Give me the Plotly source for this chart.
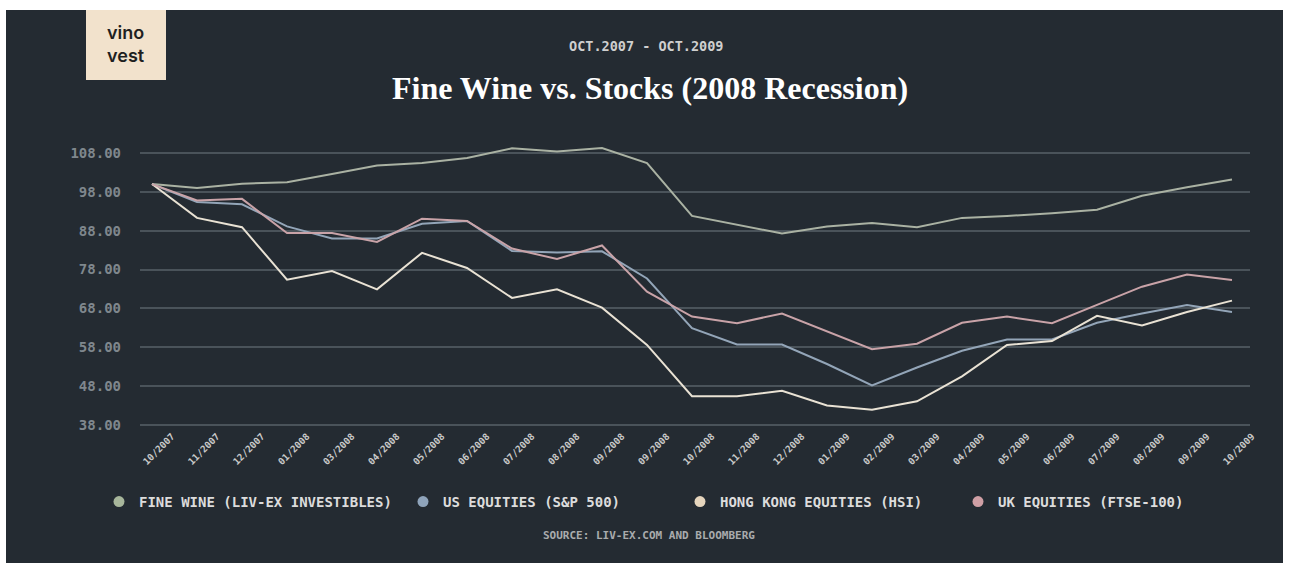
import plotly.graph_objects as go

# ---- data -------------------------------------------------------------
months = ["10/2007", "11/2007", "12/2007", "01/2008", "03/2008", "04/2008",
          "05/2008", "06/2008", "07/2008", "08/2008", "09/2008", "09/2008",
          "10/2008", "11/2008", "12/2008", "01/2009", "02/2009", "03/2009",
          "04/2009", "05/2009", "06/2009", "07/2009", "08/2009", "09/2009",
          "10/2009"]

fine_wine = [100, 99.0, 100.1, 100.5, 102.6, 104.8, 105.4, 106.7, 109.2, 108.4,
             109.3, 105.4, 91.8, 89.6, 87.3, 89.1, 90.0, 88.9, 91.3, 91.8,
             92.5, 93.4, 97.0, 99.2, 101.2]
sp500 = [100, 95.4, 94.8, 89.1, 86.0, 86.0, 89.8, 90.5, 82.8, 82.4,
         82.7, 75.7, 62.9, 58.7, 58.7, 53.7, 48.2, 52.8, 57.1, 60.0,
         60.0, 64.3, 66.7, 68.9, 67.1]
hsi = [100, 91.3, 88.9, 75.4, 77.6, 72.9, 82.3, 78.4, 70.7, 72.9,
       68.2, 58.6, 45.4, 45.4, 46.8, 43.0, 41.9, 44.1, 50.5, 58.6,
       59.6, 66.1, 63.6, 67.1, 70.0]
ftse = [100, 95.8, 96.2, 87.4, 87.4, 85.1, 91.1, 90.5, 83.4, 80.7,
        84.2, 72.3, 65.9, 64.2, 66.7, 62.0, 57.5, 58.9, 64.3, 65.9,
        64.2, 68.9, 73.6, 76.7, 75.3]

series_names = ["FINE WINE (LIV-EX INVESTIBLES)", "US EQUITIES (S&P 500)",
                "HONG KONG EQUITIES (HSI)", "UK EQUITIES (FTSE-100)"]
y_ticks = [38, 48, 58, 68, 78, 88, 98, 108]

# ---- styling ------------------------------------------------------------
W, H = 1290, 571
L, R, T, B = 140, 40, 140, 143          # plot area: x 140..1250, y 140..428
PW, PH = W - L - R, H - T - B
BG = "#242b32"
MONO = "DejaVu Sans Mono"
line_colors = ["#aab2a3", "#93a5b8", "#e9e2d4", "#c9a3a8"]
dot_colors = ["#a7b69b", "#8fa4bb", "#e5d5bd", "#cf9fa5"]
series = [fine_wine, sp500, hsi, ftse]


def px_x(px):
    return (px - L) / PW


def px_y(py):
    return (H - B - py) / PH


def label(text, cx, cy, font, **kw):
    return dict(text=text, x=px_x(cx), y=px_y(cy), xref="paper", yref="paper",
                xanchor="center", yanchor="middle", showarrow=False, font=font,
                **kw)


x_idx = list(range(len(months)))
fig = go.Figure()

for vals, col in zip(series, line_colors):
    fig.add_trace(go.Scatter(x=x_idx, y=vals, mode="lines",
                             line=dict(color=col, width=2),
                             showlegend=False, hoverinfo="skip"))

# one legend per series so each entry sits at its own spot
legend_left = [99, 403, 680, 958]
legend_keys = ["legend", "legend2", "legend3", "legend4"]
layout_legends = {}
for name, col, key, lx in zip(series_names, dot_colors, legend_keys, legend_left):
    fig.add_trace(go.Scatter(x=[None], y=[None], mode="markers", name=name,
                             marker=dict(color=col, size=11),
                             legend=key, showlegend=True))
    layout_legends[key] = dict(
        x=px_x(lx), y=px_y(502), xanchor="left", yanchor="middle",
        orientation="h", bgcolor="rgba(0,0,0,0)", itemwidth=30,
        font=dict(family=MONO, size=14, color="#dcdcdc", weight="bold"))

logo_font = dict(family="Inter", size=18, color="#1f1f1f", weight=600)

fig.update_layout(
    width=W, height=H,
    margin=dict(l=L, r=R, t=T, b=B),
    paper_bgcolor="white",
    plot_bgcolor=BG,
    **layout_legends,
    xaxis=dict(range=[-12 / 45, (1250 - 152) / 45],
               tickmode="array", tickvals=x_idx, ticktext=months,
               tickangle=-45, showgrid=False, zeroline=False, showline=False,
               ticks="", ticklabelshift=20,
               tickfont=dict(family=MONO, size=9.5, color="#c9c9c9",
                             weight="bold")),
    yaxis=dict(range=[38 - 3 / 3.886, 38 + (425 - 140) / 3.886],
               tickmode="array", tickvals=y_ticks,
               ticktext=[f"{v:.2f}" for v in y_ticks],
               showgrid=True, gridcolor="#4a535a", gridwidth=1.5,
               zeroline=False, showline=False, ticks="",
               ticklabelstandoff=18,
               tickfont=dict(family=MONO, size=14, color="#7f878d",
                             weight="bold")),
    shapes=[
        dict(type="rect", xref="paper", yref="paper", layer="below",
             x0=px_x(6), x1=px_x(1283), y0=px_y(563), y1=px_y(10),
             fillcolor=BG, line=dict(width=0)),
        dict(type="rect", xref="paper", yref="paper", layer="above",
             x0=px_x(86), x1=px_x(166), y0=px_y(80), y1=px_y(10),
             fillcolor="#f2e2cc", line=dict(width=0)),
    ],
    annotations=[
        label("vino<br>vest", 126, 44, logo_font),
        label("OCT.2007 - OCT.2009", 646, 46,
              dict(family=MONO, size=13.5, color="#cfcfcf", weight="bold")),
        label("Fine Wine vs. Stocks (2008 Recession)", 650, 88,
              dict(family="Liberation Serif", size=32, color="#ffffff",
                   weight="bold")),
        label("SOURCE: LIV-EX.COM AND BLOOMBERG", 649, 535,
              dict(family=MONO, size=11, color="#a9abad", weight="bold")),
    ],
)

fig.write_html("out.html")
